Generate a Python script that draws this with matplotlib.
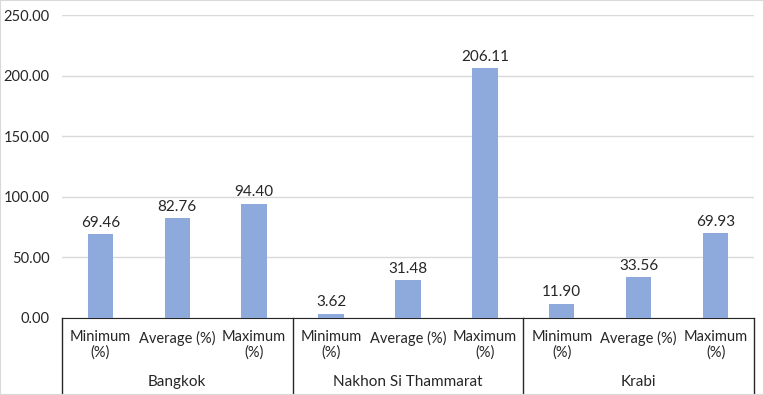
import numpy as np
import matplotlib.pyplot as plt
from matplotlib.patches import Rectangle
from matplotlib.transforms import blended_transform_factory

plt.rcParams['font.family'] = ['Lato', 'DejaVu Sans']

# Data
provinces = ["Bangkok", "Nakhon Si Thammarat", "Krabi"]
measures = ["Minimum\n(%)", "Average (%)", "Maximum\n(%)"]
bangkok = [69.46, 82.76, 94.40]
nakhon = [3.62, 31.48, 206.11]
krabi = [11.90, 33.56, 69.93]

values = bangkok + nakhon + krabi
labels = measures * len(provinces)
x = np.arange(len(values))

fig = plt.figure(figsize=(7.64, 3.95), dpi=100)
ax = fig.add_axes([0.081, 0.195, 0.906, 0.767])

ax.bar(x, values, width=0.33, color="#8EA9DB", zorder=3)
for xi, v in zip(x, values):
    ax.annotate(f"{v:.2f}", (xi, v), xytext=(0, 3), textcoords="offset points",
                ha="center", va="bottom", fontsize=11, color="#262626")

ax.set_xlim(-0.5, len(values) - 0.5)
ax.set_ylim(0, 250)
ax.set_yticks(np.arange(0, 251, 50))
ax.yaxis.set_major_formatter(plt.FormatStrFormatter("%.2f"))
ax.grid(axis="y", color="#d9d9d9", linewidth=1, zorder=0)
for s in ["top", "right", "left"]:
    ax.spines[s].set_visible(False)
ax.spines["bottom"].set_color("#262626")
ax.tick_params(axis="y", length=0, pad=9, labelsize=10.5, labelcolor="#262626")

ax.set_xticks(x)
ax.set_xticklabels(labels, fontsize=10.5, color="#262626", linespacing=1.1)
ax.tick_params(axis="x", length=0, pad=9)

# Group labels and separators
trans = blended_transform_factory(ax.transData, ax.transAxes)
bottom = -0.195 / 0.767
for i, p in enumerate(provinces):
    ax.text(3 * i + 1, -0.21, p, transform=trans, ha="center", va="center",
            fontsize=11, color="#262626")
for b in [-0.5, 2.5, 5.5, 8.5]:
    ax.plot([b, b], [0, bottom], transform=trans, color="#262626",
            linewidth=1, clip_on=False)

fig.patches.append(Rectangle((0, 0), 1, 1, transform=fig.transFigure,
                             fill=False, edgecolor="#d9d9d9", linewidth=1.5))

fig.savefig("out.png", dpi=100)
